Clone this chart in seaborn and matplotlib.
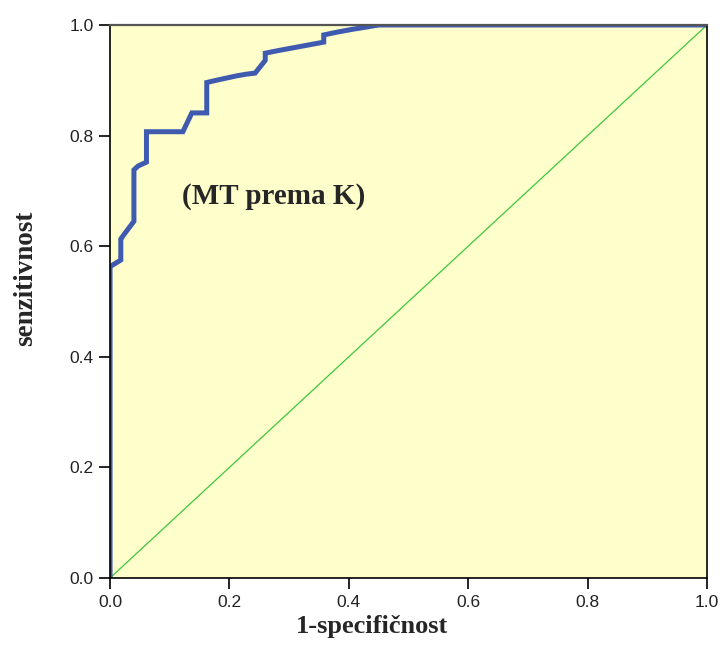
import matplotlib
matplotlib.use("Agg")
import matplotlib.pyplot as plt
import seaborn as sns
import pandas as pd

# ROC curve points (1 - specificity, sensitivity)
fpr = [0.0, 0.0, 0.018, 0.018, 0.024, 0.040, 0.040, 0.047, 0.061, 0.061,
       0.122, 0.137, 0.162, 0.162, 0.178, 0.195, 0.212, 0.228, 0.243,
       0.260, 0.260, 0.283, 0.308, 0.333, 0.358, 0.358, 0.380, 0.405,
       0.428, 0.450, 1.0]
tpr = [0.0, 0.563, 0.575, 0.613, 0.622, 0.645, 0.738, 0.745, 0.752, 0.807,
       0.807, 0.841, 0.841, 0.896, 0.900, 0.904, 0.908, 0.911, 0.913,
       0.936, 0.949, 0.954, 0.959, 0.964, 0.969, 0.982, 0.987, 0.992,
       0.996, 1.0, 1.0]

# Reference (chance) line
ref_x = [0.0, 1.0]
ref_y = [0.0, 1.0]

ticks = [0.0, 0.2, 0.4, 0.6, 0.8, 1.0]
tick_labels = ["0.0", "0.2", "0.4", "0.6", "0.8", "1.0"]

curve = pd.DataFrame({"fpr": fpr, "tpr": tpr})
chance = pd.DataFrame({"x": ref_x, "y": ref_y})

sns.set_theme(style="ticks")
plt.rcParams["font.family"] = ["Liberation Sans", "DejaVu Sans"]

fig = plt.figure(figsize=(7.24, 6.61), dpi=100)
ax = fig.add_axes([0.152, 0.1256, 0.8245, 0.8366])
ax.set_facecolor("#FFFFCC")

sns.lineplot(data=chance, x="x", y="y", ax=ax, color="#3CC83C",
             linewidth=0.9, sort=False, estimator=None)
sns.lineplot(data=curve, x="fpr", y="tpr", ax=ax, color="#3F5BB0",
             linewidth=3.6, sort=False, estimator=None,
             solid_joinstyle="miter")

ax.set_xlim(0, 1)
ax.set_ylim(0, 1)
ax.set_xticks(ticks)
ax.set_xticklabels(tick_labels)
ax.set_yticks(ticks)
ax.set_yticklabels(tick_labels)
ax.tick_params(axis="both", direction="out", length=8, width=1.2,
               color="black", labelsize=12.5, labelcolor="#222222", pad=4)

for side in ["left", "bottom", "right", "top"]:
    ax.spines[side].set_visible(True)
    ax.spines[side].set_color("black")
    ax.spines[side].set_linewidth(1.2)
ax.spines["top"].set_color("#555555")
ax.spines["top"].set_linewidth(1.6)

ax.set_xlabel("")
ax.set_ylabel("")
fig.text(0.514, 0.042, "1-specifičnost", ha="center", va="baseline",
         family="Liberation Serif", fontweight="bold", fontsize=19)
fig.text(0.036, 0.579, "senzitivnost", ha="center", va="center",
         rotation=90, family="Liberation Serif", fontweight="bold",
         fontsize=19.5)

ax.text(0.12, 0.69, "(MT prema K)", ha="left", va="center",
        family="Liberation Serif", fontweight="bold", fontsize=21)

fig.savefig("out.png", dpi=100, facecolor="white")
